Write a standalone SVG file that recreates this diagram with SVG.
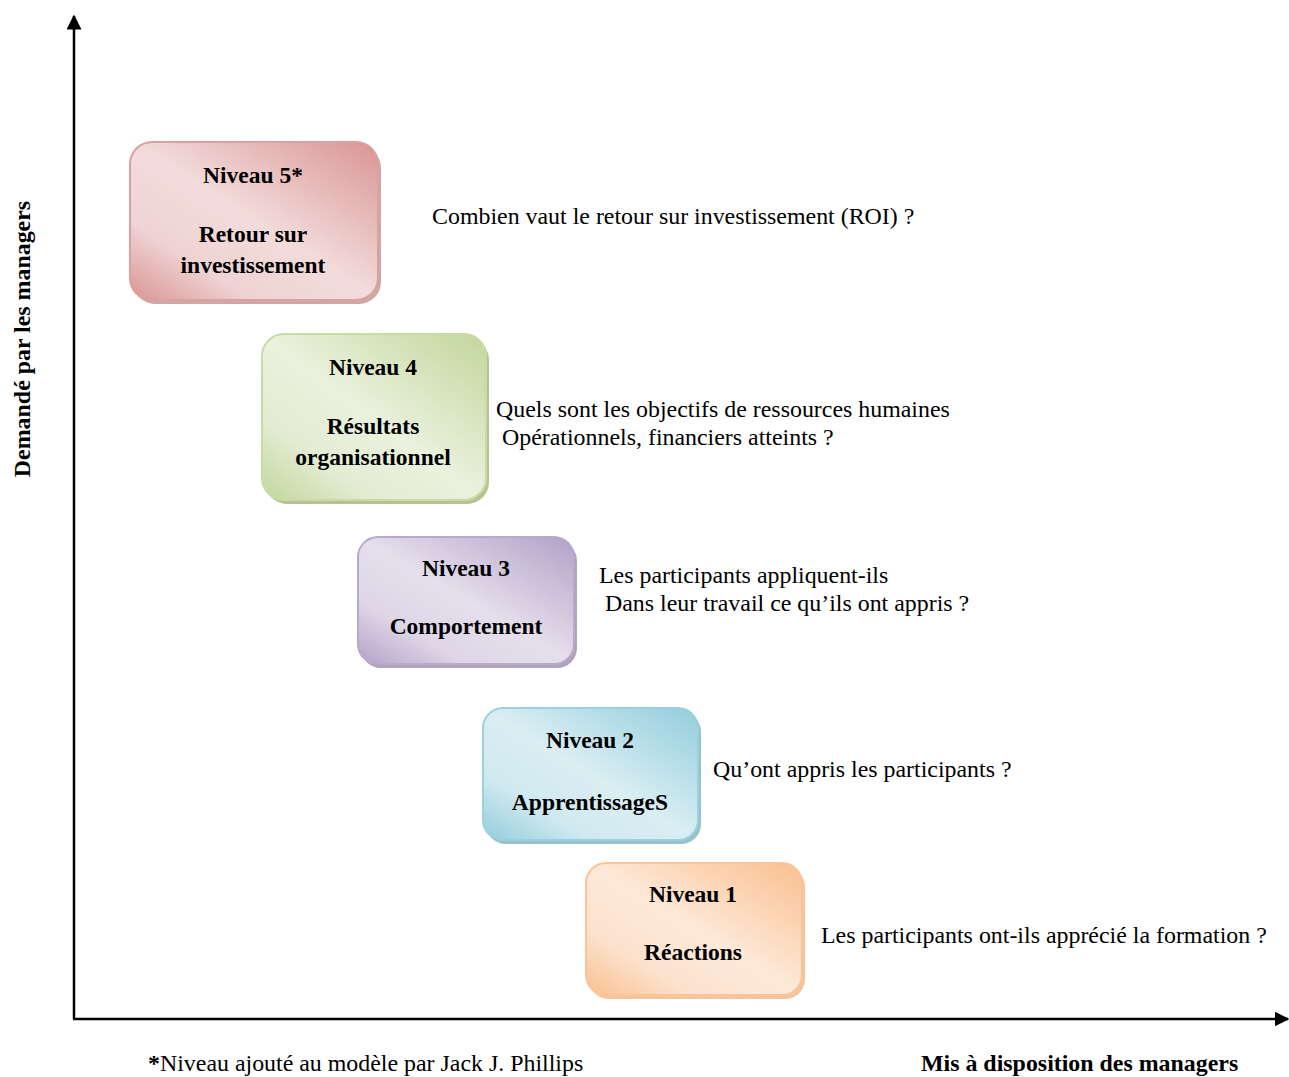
<svg xmlns="http://www.w3.org/2000/svg" width="1289" height="1077" viewBox="0 0 1289 1077">
<style>
.bt{font-family:"Liberation Serif","Times New Roman",serif;font-weight:bold;font-size:23.5px;fill:#000;text-anchor:middle}
.q{font-family:"Liberation Serif","Times New Roman",serif;font-size:23.9px;fill:#000}
.ax{stroke:#000;stroke-width:2.5;fill:none}
</style>
<defs>
<linearGradient id="g5" x1="1" y1="0" x2="0" y2="1"><stop offset="0" stop-color="#d99594"/><stop offset="0.5" stop-color="#f2dcdb"/><stop offset="0.75" stop-color="#efd3d3"/><stop offset="1" stop-color="#d99594"/></linearGradient>
<linearGradient id="g4" x1="1" y1="0" x2="0" y2="1"><stop offset="0" stop-color="#c2d69b"/><stop offset="0.5" stop-color="#eaf1dd"/><stop offset="0.75" stop-color="#e3ecd3"/><stop offset="1" stop-color="#c2d69b"/></linearGradient>
<linearGradient id="g3" x1="1" y1="0" x2="0" y2="1"><stop offset="0" stop-color="#b2a1c7"/><stop offset="0.5" stop-color="#e5dfec"/><stop offset="0.75" stop-color="#ded6e7"/><stop offset="1" stop-color="#b2a1c7"/></linearGradient>
<linearGradient id="g2" x1="1" y1="0" x2="0" y2="1"><stop offset="0" stop-color="#92cddc"/><stop offset="0.5" stop-color="#daeef3"/><stop offset="0.75" stop-color="#d0e9f0"/><stop offset="1" stop-color="#92cddc"/></linearGradient>
<linearGradient id="g1" x1="1" y1="0" x2="0" y2="1"><stop offset="0" stop-color="#fabf8f"/><stop offset="0.5" stop-color="#fde9d9"/><stop offset="0.75" stop-color="#fce2cd"/><stop offset="1" stop-color="#fabf8f"/></linearGradient>
<marker id="arr" viewBox="0 0 10 10" refX="9" refY="5" markerWidth="6" markerHeight="6" markerUnits="strokeWidth" orient="auto"><path d="M0,0 L10,5 L0,10 z" fill="#000"/></marker>
</defs>

<g id="axes">
<line class="ax" x1="74" y1="1019" x2="74" y2="16" marker-end="url(#arr)"/>
<line class="ax" x1="73" y1="1019" x2="1288" y2="1019" marker-end="url(#arr)"/>
</g>

<g id="niveau5">
<rect x="133" y="146" width="248" height="158" rx="22" fill="#a65e5d" opacity="0.55"/>
<rect x="130" y="142" width="248" height="158" rx="22" fill="url(#g5)" stroke="#dca0a0" stroke-width="2"/>
<text class="bt" x="253" y="183">Niveau 5*</text>
<text class="bt" x="253" y="242">Retour sur</text>
<text class="bt" x="253" y="273">investissement</text>
</g>

<g id="niveau4">
<rect x="265" y="338" width="224" height="166" rx="22" fill="#76923c" opacity="0.55"/>
<rect x="262" y="334" width="224" height="166" rx="22" fill="url(#g4)" stroke="#c9dba6" stroke-width="2"/>
<text class="bt" x="373" y="375">Niveau 4</text>
<text class="bt" x="373" y="434">Résultats</text>
<text class="bt" x="373" y="465">organisationnel</text>
</g>

<g id="niveau3">
<rect x="361" y="541" width="216" height="127" rx="20" fill="#5f497a" opacity="0.5"/>
<rect x="358" y="537" width="216" height="127" rx="20" fill="url(#g3)" stroke="#b9aacc" stroke-width="2"/>
<text class="bt" x="466" y="576">Niveau 3</text>
<text class="bt" x="466" y="634">Comportement</text>
</g>

<g id="niveau2">
<rect x="486" y="712" width="215" height="132" rx="20" fill="#31849b" opacity="0.5"/>
<rect x="483" y="708" width="215" height="132" rx="20" fill="url(#g2)" stroke="#9ad1df" stroke-width="2"/>
<text class="bt" x="590" y="748">Niveau 2</text>
<text class="bt" x="590" y="810">ApprentissageS</text>
</g>

<g id="niveau1">
<rect x="589" y="867" width="216" height="132" rx="20" fill="#e36c09" opacity="0.4"/>
<rect x="586" y="863" width="216" height="132" rx="20" fill="url(#g1)" stroke="#fac49a" stroke-width="2"/>
<text class="bt" x="693" y="902">Niveau 1</text>
<text class="bt" x="693" y="960">Réactions</text>
</g>

<g id="questions">
<text class="q" x="432" y="224">Combien vaut le retour sur investissement (ROI) ?</text>
<text class="q" x="496" y="417">Quels sont les objectifs de ressources humaines</text>
<text class="q" x="496" y="445" xml:space="preserve"> Opérationnels, financiers atteints ?</text>
<text class="q" x="599" y="583">Les participants appliquent-ils</text>
<text class="q" x="599" y="611" xml:space="preserve"> Dans leur travail ce qu’ils ont appris ?</text>
<text class="q" x="713" y="777">Qu’ont appris les participants ?</text>
<text class="q" x="821" y="943">Les participants ont-ils apprécié la formation ?</text>
</g>

<g id="labels">
<text class="q" x="148" y="1071"><tspan font-weight="bold">*</tspan>Niveau ajouté au modèle par Jack J. Phillips</text>
<text class="q" x="921" y="1071" font-weight="bold">Mis à disposition des managers</text>
<text class="q" font-weight="bold" text-anchor="middle" transform="translate(30,339) rotate(-90)">Demandé par les managers</text>
</g>
</svg>
